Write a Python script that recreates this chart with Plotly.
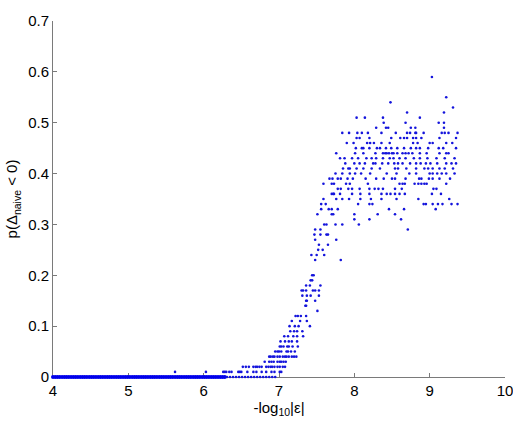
import plotly.graph_objects as go

# x positions of points lying at p = 0 (dense run, then sparser run)
zero_x_dense = [4.00,4.03,4.06,4.09,4.12,4.15,4.18,4.21,4.24,4.27,4.30,4.33,4.36,4.39,4.42,4.45,4.48,
                4.51,4.54,4.57,4.60,4.63,4.66,4.69,4.72,4.75,4.78,4.81,4.84,4.87,4.90,4.93,4.96,4.99,
                5.02,5.05,5.08,5.11,5.14,5.17,5.20,5.23,5.26,5.29,5.32,5.35,5.38,5.41,5.44,5.47,5.50,
                5.53,5.56,5.59,5.62,5.65,5.68,5.71,5.74,5.77,5.80,5.83,5.86,5.89,5.92,5.95,5.98,6.01,
                6.04,6.07,6.10,6.13,6.16,6.19,6.22,6.25,6.28]
zero_x_sparse = [6.31,6.35,6.39,6.43,6.47,6.51,6.55,6.59,6.63,6.67,6.71,6.75,6.79,6.83,6.87,6.91,6.95]

# probability levels (rows) and the x positions of points on each level
levels = [0.01,0.02,0.03,0.04,0.05,0.06,0.07,0.08,0.09,0.10,0.11,0.12,0.13,0.14,0.15,0.16,0.17,
          0.18,0.19,0.20,0.23,0.24,0.25,0.26,0.27,0.28,0.29,0.30,0.31,0.32,0.33,0.34,0.35,0.36,
          0.37,0.38,0.39,0.40,0.41,0.42,0.43,0.44,0.45,0.46,0.47,0.48,0.49,0.50,0.51,0.52,0.53,
          0.54,0.55,0.59]

level_x = [
    [5.62,6.03,6.26,6.28,6.30,6.34,6.37,6.46,6.48,6.50,6.58,6.66,6.70,6.77,6.83,6.90,6.94,7.01,7.03],
    [6.52,6.56,6.60,6.66,6.69,6.71,6.74,6.77,6.83,6.86,6.89,6.91,6.94,6.98,7.01,7.05,7.08],
    [6.81,6.87,6.90,6.93,6.98,7.01,7.03,7.06,7.09],
    [6.87,6.89,6.92,6.94,6.98,7.01,7.05,7.08,7.10,7.13,7.17,7.20,7.23],
    [6.95,6.98,7.00,7.03,7.10,7.12,7.16,7.21],
    [7.01,7.03,7.06,7.11,7.13,7.18,7.25],
    [7.02,7.08,7.13,7.17,7.24],
    [7.07,7.12,7.19,7.24,7.32],
    [7.15,7.20,7.24,7.31],
    [7.14,7.21,7.26,7.41],
    [7.17,7.28,7.37],
    [7.22,7.25,7.29,7.36],
    [7.51],
    [7.35,7.36],
    [7.36,7.37,7.48],
    [7.31,7.37,7.42,7.53],
    [7.30,7.32,7.36,7.45,7.48,7.53],
    [7.36,7.41,7.55],
    [7.42,7.44],
    [7.44,7.46],
    [7.48,7.82],
    [7.43,7.50,7.60],
    [7.52,7.58],
    [7.53,7.65],
    [7.48,7.76],
    [7.47,7.55,7.63,7.65],
    [7.48,7.55,8.71],
    [7.60,7.63,7.75,7.84,8.06],
    [8.00,8.20,8.62],
    [7.51,7.70,7.72,8.00,8.31,8.54],
    [7.56,7.66,7.70,7.78,8.46,8.66,9.08],
    [7.56,7.62,8.05,8.20,8.24,8.92,8.95,9.04,9.11,9.17,9.29,9.37],
    [7.59,7.76,7.84,7.93,8.08,8.22,8.36,8.56,8.85,9.26],
    [7.70,7.72,7.73,7.81,7.97,8.08,8.20,8.36,8.43,8.48,8.54,8.60,8.67,9.03,9.15],
    [7.78,7.82,7.92,7.97,8.07,8.20,8.27,8.32,8.38,8.54,8.63,9.05,9.09],
    [7.59,7.70,7.73,7.89,7.94,8.18,8.60,8.64,8.67,8.80,8.85,8.89,8.93,8.96,9.22],
    [7.67,7.71,7.78,7.82,7.91,7.98,8.15,8.29,8.39,8.50,8.54,8.68,8.86,8.89,8.99,9.04,9.13,9.27],
    [7.75,7.84,7.94,8.01,8.09,8.21,8.43,8.56,8.73,8.82,9.00,9.04,9.10,9.16,9.22,9.33],
    [7.85,7.92,7.94,8.03,8.12,8.23,8.34,8.54,8.58,8.69,8.82,8.93,8.98,9.04,9.13,9.20,9.31],
    [7.88,8.00,8.07,8.14,8.25,8.28,8.37,8.45,8.53,8.58,8.64,8.74,8.82,8.88,8.95,9.01,9.10,9.22,9.29,9.35],
    [7.81,7.87,7.97,8.05,8.16,8.23,8.29,8.38,8.47,8.52,8.60,8.68,8.79,8.87,8.97,9.09,9.20,9.33],
    [7.76,8.01,8.12,8.28,8.38,8.41,8.43,8.46,8.50,8.52,8.57,8.64,8.68,8.72,8.77,8.87,8.96,9.13,9.22,9.25],
    [8.02,8.10,8.12,8.20,8.30,8.34,8.42,8.49,8.57,8.66,8.75,8.82,8.87,8.98,9.12,9.18,9.35],
    [7.90,7.99,8.17,8.21,8.26,8.36,8.47,8.78,8.84,9.00,9.04,9.22,9.30],
    [8.03,8.07,8.20,8.49,8.61,8.66,8.70,8.78,8.82,8.89,9.13,9.35],
    [7.84,7.93,8.04,8.10,8.18,8.36,8.55,8.70,8.74,8.81,8.82,8.92,9.16,9.20,9.25,9.37],
    [8.29,8.42,8.45,8.75,8.81,9.19],
    [8.39,8.68,9.12,9.19],
    [8.03,8.14,8.38,8.87],
    [8.70,9.19],
    [9.31],
    [8.48],
    [9.22],
    [9.03],
]

x_ticks = [4, 5, 6, 7, 8, 9, 10]
y_ticks = [0, 0.1, 0.2, 0.3, 0.4, 0.5, 0.6, 0.7]
y_tick_text = ["0", "0.1", "0.2", "0.3", "0.4", "0.5", "0.6", "0.7"]

xs = list(zero_x_sparse)
ys = [0.0] * len(zero_x_sparse)
for lv, row in zip(levels, level_x):
    xs.extend(row)
    ys.extend([lv] * len(row))

fig = go.Figure()
fig.add_trace(go.Scatter(
    x=zero_x_dense, y=[0.0] * len(zero_x_dense), mode="markers",
    marker=dict(color="rgb(0,0,235)", size=4, line=dict(width=0)),
    cliponaxis=False, showlegend=False,
))
fig.add_trace(go.Scatter(
    x=xs, y=ys, mode="markers",
    marker=dict(color="rgb(20,20,220)", size=2.6, line=dict(width=0)),
    cliponaxis=False, showlegend=False,
))

font_family = "Liberation Sans, Arial, sans-serif"
fig.update_layout(
    width=513, height=425,
    margin=dict(l=53, r=8, t=21, b=48, autoexpand=False),
    paper_bgcolor="white", plot_bgcolor="white",
    font=dict(family=font_family, size=15, color="black"),
    xaxis=dict(
        range=[4, 10], tickvals=x_ticks, ticktext=[str(v) for v in x_ticks],
        ticks="inside", ticklen=4, tickcolor="#7a7a7a", showline=True, linecolor="#7a7a7a",
        linewidth=1, showgrid=False, zeroline=False, mirror=False, automargin=False,
        ticklabeloverflow="allow", layer="below traces",
        title=dict(text="-log<sub>10</sub>|ε|", standoff=4, font=dict(size=15)),
        tickfont=dict(size=15),
    ),
    yaxis=dict(
        range=[0, 0.7], tickvals=y_ticks, ticktext=y_tick_text,
        ticks="inside", ticklen=4, tickcolor="#7a7a7a", showline=True, linecolor="#7a7a7a",
        linewidth=1, showgrid=False, zeroline=False, mirror=False, automargin=False,
        layer="below traces",
        title=dict(text="p(Δ<sub>naive</sub> < 0)", standoff=6, font=dict(size=15)),
        tickfont=dict(size=15),
    ),
)

fig.write_html("out.html")
